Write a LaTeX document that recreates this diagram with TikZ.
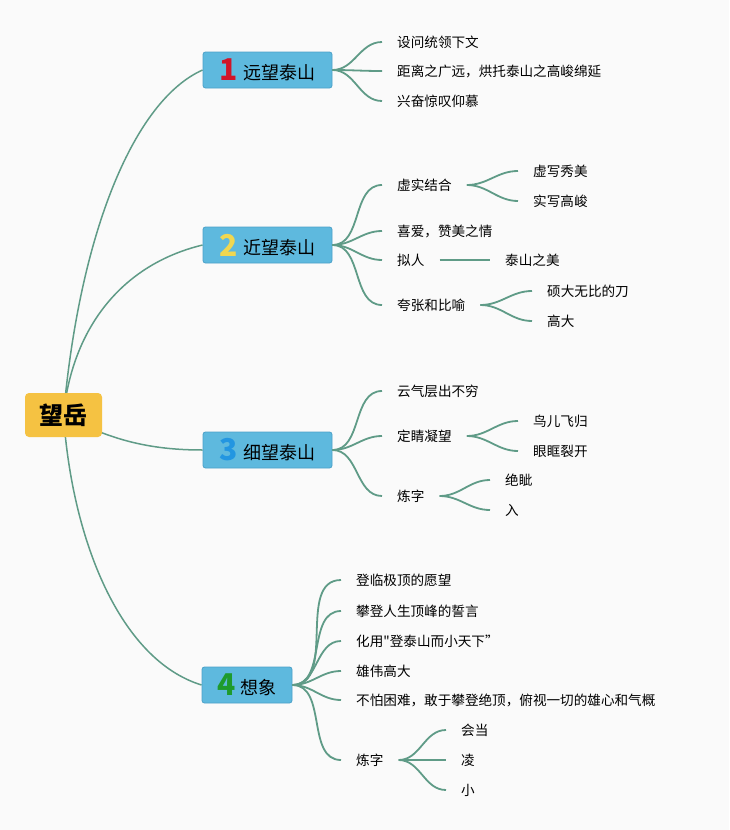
\documentclass[tikz,border=0pt]{standalone}
\usepackage{fontspec}
\setmainfont{Noto Sans CJK SC}[Ligatures=TeXOff]
\usetikzlibrary{backgrounds}
\definecolor{lc}{RGB}{95,155,135}
\definecolor{bb}{RGB}{94,185,222}
\definecolor{bd}{RGB}{75,160,200}
\definecolor{rootc}{RGB}{245,194,66}
\definecolor{bgc}{RGB}{250,250,250}
\definecolor{nred}{RGB}{210,20,40}
\definecolor{nyel}{RGB}{240,215,80}
\definecolor{nblu}{RGB}{35,150,225}
\definecolor{ngrn}{RGB}{30,155,45}
\newcommand\bignum[2]{\raisebox{-1.5pt}{\fontsize{30}{30}\selectfont\bfseries\color{#1}#2}}
\begin{document}
\begin{tikzpicture}[x=1pt,y=-1pt,
  conn/.style={draw=lc, line width=1.8pt},
  rconn/.style={draw=lc, line width=1.5pt},
  leaf/.style={anchor=west, inner xsep=15pt, inner ysep=0pt, font=\fontsize{13.6}{14}\selectfont, text height=14pt, text depth=3pt},
  branch/.style={fill=bb, draw=bd, line width=0.8pt, rounded corners=2.5pt, minimum height=36pt, inner xsep=0pt, font=\fontsize{18}{18}\selectfont},
  rootbox/.style={fill=rootc, rounded corners=4pt, minimum width=77pt, minimum height=44pt, font=\fontsize{24}{24}\selectfont\bfseries}]
\useasboundingbox (0,0) rectangle (729,830);
% nodes
\node[rootbox] (root) at (63.5,415) {望岳};
\node[branch, minimum width=129pt] (b1) at (267.5,70) {\bignum{nred}{1}\hspace{5pt}远望泰山};
\node[branch, minimum width=129pt] (b2) at (267.5,245) {\bignum{nyel}{2}\hspace{5pt}近望泰山};
\node[branch, minimum width=129pt] (b3) at (267.5,450) {\bignum{nblu}{3}\hspace{5pt}细望泰山};
\node[branch, minimum width=90pt] (b4) at (247,685) {\bignum{ngrn}{4}\hspace{5pt}想象};
% branch 1
\node[leaf] (l11) at (382,42) {设问统领下文};
\node[leaf] (l12) at (382,71) {距离之广远，烘托泰山之高峻绵延};
\node[leaf] (l13) at (382,101) {兴奋惊叹仰慕};
% branch 2
\node[leaf] (l21) at (382,185) {虚实结合};
\node[leaf] (l211) at (518,171) {虚写秀美};
\node[leaf] (l212) at (518,201) {实写高峻};
\node[leaf] (l22) at (382,231) {喜爱，赞美之情};
\node[leaf] (l23) at (382,260) {拟人};
\node[leaf] (l231) at (490,260) {泰山之美};
\node[leaf] (l24) at (382,305) {夸张和比喻};
\node[leaf] (l241) at (532,291) {硕大无比的刀};
\node[leaf] (l242) at (532,321) {高大};
% branch 3
\node[leaf] (l31) at (382,391) {云气层出不穷};
\node[leaf] (l32) at (382,436) {定睛凝望};
\node[leaf] (l321) at (518,421) {鸟儿飞归};
\node[leaf] (l322) at (518,451) {眼眶裂开};
\node[leaf] (l33) at (382,496) {炼字};
\node[leaf] (l331) at (490,480) {绝眦};
\node[leaf] (l332) at (490,510) {入};
% branch 4
\node[leaf] (l41) at (341,580) {登临极顶的愿望};
\node[leaf] (l42) at (341,611) {攀登人生顶峰的誓言};
\node[leaf] (l43) at (341,641) {化用"登泰山而小天下”};
\node[leaf] (l44) at (341,671) {雄伟高大};
\node[leaf] (l45) at (341,700) {不怕困难，敢于攀登绝顶，俯视一切的雄心和气概};
\node[leaf] (l46) at (341,760) {炼字};
\node[leaf] (l461) at (446,730) {会当};
\node[leaf] (l462) at (446,760) {凌};
\node[leaf] (l463) at (446,790) {小};
\begin{scope}[on background layer]
\fill[bgc] (0,0) rectangle (729,830);
% root to branches
\draw[rconn] (root.center) .. controls (80,230) and (135,100) .. (b1.west);
\draw[rconn] (root.center) .. controls (72,330) and (120,265) .. (b2.west);
\draw[rconn] (root.center) .. controls (110,440) and (150,450) .. (b3.west);
\draw[rconn] (root.center) .. controls (72,540) and (120,660) .. (b4.west);
\end{scope}
% branch connectors
\foreach \c in {l11,l12,l13} \draw[conn] (b1.east) to[out=0,in=180] (\c.west);
\foreach \c in {l21,l22,l23,l24} \draw[conn] (b2.east) to[out=0,in=180] (\c.west);
\foreach \c in {l211,l212} \draw[conn] (l21.east) to[out=0,in=180] (\c.west);
\draw[conn] (l23.east) -- (l231.west);
\foreach \c in {l241,l242} \draw[conn] (l24.east) to[out=0,in=180] (\c.west);
\foreach \c in {l31,l32,l33} \draw[conn] (b3.east) to[out=0,in=180] (\c.west);
\foreach \c in {l321,l322} \draw[conn] (l32.east) to[out=0,in=180] (\c.west);
\foreach \c in {l331,l332} \draw[conn] (l33.east) to[out=0,in=180] (\c.west);
\foreach \c in {l41,l42,l43,l44,l45,l46} \draw[conn] (b4.east) to[out=0,in=180] (\c.west);
\foreach \c in {l461,l462,l463} \draw[conn] (l46.east) to[out=0,in=180] (\c.west);
\end{tikzpicture}
\end{document}
